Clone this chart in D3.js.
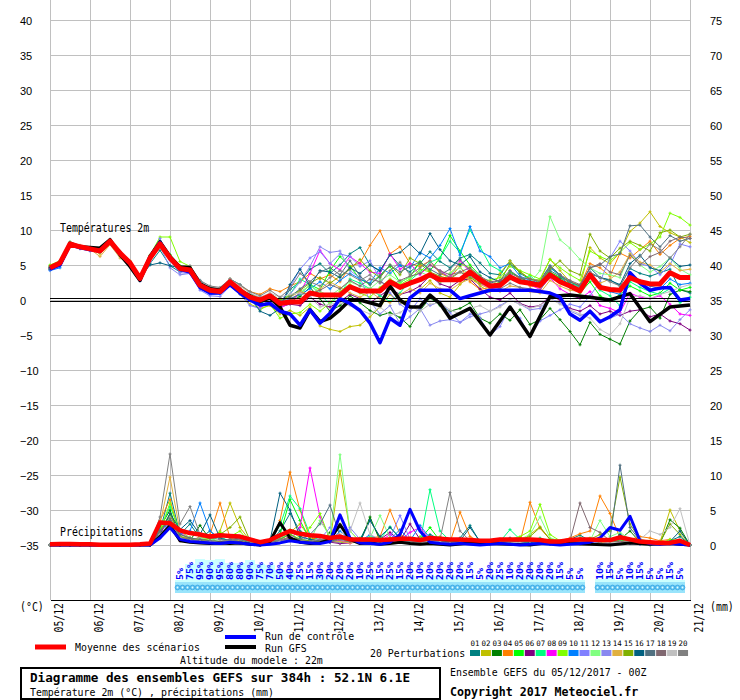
<!DOCTYPE html>
<html><head><meta charset="utf-8">
<script src="https://cdn.jsdelivr.net/npm/d3@7"></script>
<style>body{margin:0;background:#fff}svg{display:block}</style>
</head><body>
<svg id="c" width="740" height="700"></svg>
<script>
// ---------- DATA ----------
const dateLabels = ["05/12","06/12","07/12","08/12","09/12","10/12","11/12","12/12","13/12","14/12","15/12","16/12","17/12","18/12","19/12","20/12","21/12"];
const dayHours = d3.range(0, 385, 24);
const hours6 = d3.range(0, 385, 6);
const gfsHours = d3.range(0, 241, 6).concat(d3.range(252, 385, 12));
const tempTicks = [40,35,30,25,20,15,10,5,0,-5,-10,-15,-20,-25,-30,-35];
const precTicks = [75,70,65,60,55,50,45,40,35,30,25,20,15,10,5,0];
const memberColors = ["#008080","#c0c000","#008000","#ff8000","#00ff00","#800080","#00ff80","#ff00ff","#80ff00","#0080ff","#8080ff","#80ff80","#8888f0","#e0b040","#80b000","#006080","#507080","#806870","#c0c0c0","#808080"];
const memberLabels = ["01","02","03","04","05","06","07","08","09","10","11","12","13","14","15","16","17","18","19","20"];

const tempMean = [4.6,5.3,8.0,7.6,7.3,7.0,8.4,6.7,5.3,3.1,6.0,8.0,6.0,4.5,4.3,2.1,1.4,1.2,2.6,1.4,0.4,0.0,0.6,-0.5,-0.3,-0.3,1.0,0.7,0.7,0.7,1.9,1.3,1.3,1.3,2.6,1.8,2.4,2.9,3.6,2.9,2.9,2.9,4.0,2.9,2.0,2.1,3.3,2.6,2.4,2.1,3.6,2.6,2.0,1.3,3.6,1.8,1.5,1.4,3.2,2.6,2.3,2.3,3.9,3.2,3.2];
const tempControl = [4.4,5.0,7.9,7.5,7.2,7.1,8.3,6.6,5.2,3.0,6.1,8.2,6.0,4.4,4.0,1.8,1.0,1.0,2.2,1.0,0.0,-0.7,-0.5,-1.6,-2.0,-3.6,-1.4,-3.3,-1.9,0.2,-0.5,-1.5,-3.3,-6.1,-2.6,-3.6,0.3,1.4,1.4,1.4,1.4,0.2,0.6,1.0,1.4,1.4,1.4,1.4,1.4,1.2,1.0,0.4,-2.0,-2.9,-1.6,-3.1,-2.4,-1.4,3.9,2.4,1.4,1.7,1.8,0.0,0.2];
const tempGFS = [4.5,5.2,8.1,7.6,7.5,7.4,8.6,6.5,4.8,2.8,6.2,8.3,6.2,4.7,4.6,2.3,1.6,1.4,2.6,1.3,0.6,-0.2,0.3,-1.0,-3.6,-4.0,-1.4,-3.1,-2.6,-1.4,0.0,0.0,-0.4,-0.8,2.0,0.0,-1.0,-1.0,0.7,-0.5,-2.6,-1.2,-5.0,-1.0,-5.2,0.5,0.7,0.4,0.0,0.9,-3.1,-1.0,-0.7];

const t01 = [4.8,5.5,8.2,7.4,7.1,6.8,8.1,6.3,5.0,2.8,5.2,7.1,4.9,4.0,4.6,2.6,1.8,1.6,3.0,2.2,1.0,0.2,0.9,-0.6,1.5,2.6,4.4,5.2,3.8,5.0,6.6,7.5,5.0,4.1,6.5,4.9,4.0,5.2,6.9,5.5,4.6,6.0,6.5,5.3,3.8,3.6,5.6,3.8,3.0,2.8,4.9,3.6,2.3,2.0,4.6,3.2,2.9,2.0,4.5,3.8,3.4,3.9,4.4,1.5,1.0];
const t02 = [4.5,5.1,7.8,7.5,7.4,6.6,8.0,6.9,5.6,3.4,6.3,8.2,6.4,4.7,4.2,1.8,1.1,0.9,2.2,0.8,-0.6,-1.2,-0.8,-2.0,-1.5,-2.2,-1.0,-3.7,-4.2,-4.5,-3.8,-3.6,-2.4,-1.0,0.8,-0.5,0.2,1.5,2.8,1.0,0.4,2.2,3.5,2.0,1.2,3.8,5.6,4.1,3.0,2.8,5.8,4.2,2.6,2.0,7.5,6.0,5.2,6.8,9.8,11.0,12.6,10.5,9.6,9.0,8.2];
const t03 = [4.4,5.2,7.9,7.7,7.2,7.1,8.5,6.8,5.5,3.3,6.2,7.8,5.8,4.3,4.1,2.0,1.2,1.0,2.4,1.2,0.0,-0.5,0.2,-0.8,-0.2,0.5,1.8,0.2,-1.6,-0.8,0.6,-0.4,-1.5,-2.2,-1.8,-2.5,-3.8,-1.5,0.3,-0.8,-1.6,-1.2,-0.4,-2.6,-3.3,-2.0,-2.9,-1.4,-3.5,-2.8,-1.2,-2.8,-4.5,-6.4,-3.2,-4.9,-5.6,-6.3,-3.0,-1.4,-1.0,-2.6,0.8,1.4,1.2];
const t04 = [4.7,5.4,8.1,7.8,7.4,7.2,8.6,6.8,5.4,3.2,6.1,8.1,6.3,4.8,4.6,2.5,1.7,1.6,3.0,2.0,1.2,0.8,1.6,1.2,2.0,2.6,3.8,3.0,3.6,2.6,4.8,5.3,7.8,9.9,6.6,7.6,5.2,4.8,5.6,3.8,3.2,4.8,2.6,1.5,1.8,2.2,4.2,2.9,2.0,1.8,3.8,3.2,2.6,2.1,5.2,4.6,3.4,6.7,6.0,7.2,8.4,6.5,7.8,8.8,9.1];
const t05 = [4.9,5.6,8.3,7.6,7.3,6.9,8.3,6.6,5.1,3.0,5.8,8.4,6.5,4.9,4.5,2.3,1.5,1.3,2.8,1.6,0.5,-0.3,0.4,-0.8,-0.1,0.8,2.2,1.5,4.2,6.2,4.8,3.0,2.2,3.6,4.8,2.5,3.3,5.5,4.2,6.0,9.2,7.0,5.0,3.5,2.0,2.4,4.0,3.2,2.4,2.0,4.0,3.2,2.2,1.0,2.6,0.6,-0.2,0.8,2.0,1.3,0.6,1.0,2.4,1.4,1.8];
const t06 = [4.6,5.2,7.9,7.5,7.2,7.0,8.4,6.6,5.3,3.0,6.0,7.9,6.0,4.5,4.2,2.0,1.3,1.1,2.5,1.2,0.2,-0.4,0.3,-1.0,-0.6,-0.8,0.4,-0.6,-1.0,-0.2,0.8,0.2,-0.4,0.6,1.6,0.8,1.2,2.0,3.5,2.3,1.8,2.8,3.0,1.6,0.4,0.0,1.0,-0.5,-1.0,-0.8,0.6,0.0,-1.2,-1.6,-0.8,-2.0,-1.6,-2.2,-1.6,-1.4,-2.4,-2.0,-3.0,-3.4,-4.3];
const t07 = [4.8,5.4,8.0,7.7,7.4,7.1,8.4,6.8,5.4,3.1,6.2,8.3,6.2,4.6,4.4,2.2,1.5,1.3,2.7,1.5,0.5,-0.1,0.5,-0.2,0.8,3.0,2.2,0.8,-0.6,0.8,3.0,2.4,1.6,0.6,-0.2,1.0,2.8,4.0,5.4,6.0,8.4,6.8,10.0,7.6,5.0,4.2,3.0,2.8,3.5,2.2,4.6,3.5,2.6,1.8,3.4,1.4,0.6,-0.8,2.6,1.8,1.2,0.8,1.6,-0.4,0.4];
const t08 = [4.5,5.3,8.1,7.5,7.3,7.0,8.2,6.7,5.2,3.0,5.9,8.0,6.1,4.6,4.4,2.2,1.6,1.3,2.9,1.8,0.2,-1.0,-0.5,-1.2,-0.4,1.0,3.8,7.1,5.2,4.3,6.2,5.2,4.0,3.8,6.6,4.4,5.2,3.6,5.0,4.2,3.2,5.6,4.0,2.4,1.6,1.8,3.2,2.8,2.2,1.5,3.2,1.6,0.8,0.2,1.2,-0.8,-1.2,-1.8,1.0,0.4,0.2,0.6,-0.6,-2.0,-2.2];
const t09 = [5.0,5.6,8.0,7.4,7.2,6.9,8.3,6.5,5.0,2.8,6.4,9.0,9.0,5.5,4.8,2.4,1.6,1.4,2.8,1.6,0.2,-1.4,-0.6,-2.6,-2.0,-1.8,-0.6,-1.6,-0.4,1.2,2.2,1.0,0.4,1.8,3.0,2.2,3.0,4.4,4.0,2.6,3.8,5.2,4.6,3.0,2.8,3.2,4.8,4.2,3.6,3.0,5.8,4.6,3.6,2.8,7.0,6.2,5.6,6.8,8.2,7.2,8.0,9.0,12.4,11.8,10.7];
const t10 = [4.2,4.6,7.7,7.6,7.3,7.0,8.3,6.6,5.4,3.2,6.0,7.9,5.9,4.4,4.1,1.8,0.8,0.9,2.4,1.3,0.6,-0.5,0.5,-0.4,0.2,0.8,1.6,2.6,1.6,2.8,3.8,3.0,2.4,4.6,3.8,5.0,4.6,6.8,6.0,7.8,10.2,6.4,10.5,7.0,6.2,4.6,5.2,3.4,2.8,2.4,4.6,3.6,1.8,1.4,4.0,2.2,1.2,0.8,3.6,2.8,2.0,1.6,3.0,2.2,2.4];
const t11 = [4.3,5.0,7.8,7.3,7.0,6.8,8.6,6.4,4.8,2.7,5.5,8.8,5.6,3.9,3.8,1.4,0.6,0.5,2.0,0.8,-0.8,-1.2,0.2,-0.5,1.8,4.4,6.0,6.9,5.2,6.6,6.2,4.8,5.6,3.0,1.0,-0.6,-1.6,0.2,-0.8,-0.2,-1.8,-3.2,-2.0,-2.6,-5.0,-3.8,-1.0,-2.6,-5.2,-3.0,-2.2,-1.4,-0.6,-1.0,0.6,2.6,6.0,8.4,7.0,5.2,4.8,3.6,5.0,8.0,7.6];
const t12 = [4.7,5.5,8.2,7.8,7.5,7.2,8.6,6.9,5.5,3.3,6.3,8.2,6.2,4.6,4.4,2.3,1.6,1.5,2.8,1.7,0.8,0.3,0.8,0.0,0.6,1.2,2.0,1.2,0.6,1.6,2.6,2.0,1.6,2.8,3.6,2.6,3.2,4.0,3.4,2.6,3.8,4.6,3.6,2.6,1.8,2.0,3.0,2.6,2.4,4.2,11.9,8.6,7.4,5.8,4.6,3.8,3.6,3.2,6.6,5.0,4.0,4.8,6.0,4.4,3.6];
const t13 = [4.5,5.2,8.0,7.7,7.2,6.9,8.2,6.5,5.0,2.9,5.6,7.7,4.6,3.6,3.8,1.6,1.0,1.0,2.2,1.1,0.0,-0.8,-0.2,-1.4,0.8,2.6,4.8,7.6,6.8,7.0,4.2,3.2,-0.2,-2.0,-0.8,-3.4,-2.4,-1.2,-3.6,-3.0,-2.8,-3.2,-2.4,-2.0,-1.6,-0.8,0.0,-0.6,-1.4,-1.2,0.2,-0.4,-1.6,-2.2,-1.8,-3.0,-2.6,-2.0,-3.4,-4.0,-4.5,-3.6,-4.4,-2.8,-1.4];
const t14 = [4.6,5.3,7.9,7.6,7.3,6.2,7.9,6.0,5.2,3.1,6.0,8.0,6.1,4.6,4.3,2.1,1.4,1.2,2.9,1.6,0.4,0.0,0.6,-0.4,0.4,1.2,0.8,1.6,2.6,1.8,1.0,0.4,1.2,0.2,-0.4,0.8,1.6,1.0,2.4,1.6,1.4,2.4,3.0,2.2,1.6,1.2,2.0,1.8,1.2,1.0,2.8,2.0,1.4,1.2,3.2,2.4,3.0,4.0,6.6,5.4,5.0,4.0,5.2,4.2,4.4];
const t15 = [4.7,5.4,8.1,7.5,7.4,7.1,8.5,6.7,5.3,3.2,6.1,8.1,6.1,4.6,4.4,2.4,1.6,1.4,2.7,1.5,0.6,0.2,0.9,0.0,0.6,1.4,2.4,3.2,2.4,3.4,4.4,5.8,4.2,3.2,5.0,3.6,6.0,5.2,4.0,3.4,3.0,4.0,3.2,2.4,2.0,2.6,5.2,4.0,3.0,2.6,4.4,5.6,4.2,3.6,9.4,7.0,6.0,7.4,8.4,7.8,7.0,9.6,10.0,9.0,9.4];
const t16 = [4.4,5.0,7.9,7.4,7.2,7.1,8.4,6.8,5.4,3.3,5.0,5.3,4.9,4.6,4.6,2.8,1.6,1.2,2.6,1.4,0.4,-1.6,-2.2,-1.2,2.2,4.4,2.0,4.2,4.0,3.2,4.6,3.8,5.0,4.2,6.4,6.8,8.0,6.6,9.5,7.2,5.6,5.0,6.2,4.0,3.2,2.6,3.6,2.8,2.6,2.0,3.8,3.0,2.0,1.6,3.8,3.2,2.8,2.2,5.2,6.4,4.6,4.2,6.0,4.8,5.0];
const t17 = [4.6,5.2,8.0,7.6,7.3,7.0,8.4,6.7,5.3,3.0,6.0,8.0,6.0,4.6,4.5,2.2,1.4,1.3,2.8,1.6,0.6,0.0,0.8,-0.2,0.4,1.6,2.6,4.0,4.6,3.6,5.6,3.4,2.2,3.4,5.0,4.0,4.8,5.4,4.4,3.6,4.4,5.8,4.2,3.2,2.4,2.8,4.2,3.2,2.6,2.4,4.2,3.4,2.6,2.0,4.6,5.0,6.2,6.6,10.6,10.7,9.0,7.6,9.2,8.4,8.8];
const t18 = [4.6,5.3,8.1,7.6,7.3,7.0,8.3,6.7,5.3,3.1,6.0,8.0,6.0,4.4,4.3,2.2,1.4,1.2,2.6,1.4,0.4,0.1,0.7,-0.3,0.0,1.0,0.8,1.4,2.2,1.6,2.8,2.0,3.0,2.6,2.0,2.8,3.4,3.8,5.0,4.2,3.6,4.0,4.6,3.4,2.6,2.8,3.8,3.2,3.0,2.6,4.8,3.6,2.8,2.2,4.6,5.2,4.0,3.6,6.4,5.0,6.2,6.8,8.4,9.0,8.8];
const t19 = [4.8,5.5,8.3,7.7,7.5,7.2,8.6,7.0,5.6,3.4,6.3,8.3,6.4,4.8,4.6,2.6,1.9,1.7,3.0,2.0,1.0,0.4,1.0,0.4,0.8,1.0,0.4,-1.0,-0.6,-0.4,-0.8,-1.4,-2.0,-1.0,-2.2,-1.8,-0.8,-1.6,-0.6,-0.4,-1.4,-2.0,-1.2,-0.8,-1.6,-1.0,0.0,-0.6,-1.2,-0.8,0.2,-0.6,-1.4,-2.0,-2.6,-4.2,-5.0,-3.4,0.4,0.6,0.2,0.8,1.2,1.8,2.2];
const t20 = [4.7,5.4,8.2,7.7,7.4,7.1,8.7,6.9,5.4,3.2,6.1,8.1,6.2,4.8,4.9,2.8,2.0,1.8,3.0,2.2,1.2,0.6,1.4,0.4,1.6,3.8,2.6,2.0,3.2,4.2,3.6,2.8,3.6,2.4,4.2,5.4,3.6,4.6,5.6,4.0,3.2,4.0,3.4,2.6,2.0,1.6,2.4,1.8,1.6,1.4,3.4,2.8,2.2,1.8,4.0,3.2,2.6,2.0,4.6,6.2,8.0,7.2,6.0,7.6,9.4];

const precMean = [0.1,0.15,0.15,0.1,0.1,0.05,0.05,0.05,0.05,0.1,0.2,3.2,3.1,2.1,1.7,1.5,1.2,1.4,1.3,1.2,0.8,0.4,0.7,1.4,2.0,1.6,1.4,1.3,1.0,1.2,0.8,0.8,0.8,0.7,0.8,0.9,0.9,0.7,1.0,0.9,0.8,0.8,0.7,0.6,0.6,0.8,0.8,0.8,0.8,0.7,0.5,0.5,0.7,0.8,0.8,0.7,0.7,1.1,0.8,0.5,0.4,0.3,0.3,0.6,0.0];
const precControl = [0,0,0,0,0,0,0,0,0,0,0,1.0,2.5,0.8,0.5,0.4,0.3,0.2,0.4,0.3,0.1,0.0,0.1,0.3,0.6,0.4,0.3,0.2,0.5,4.3,1.0,0.3,0.2,0.1,0.4,1.5,5.1,2.0,0.4,0.2,0.1,0.2,0.1,0.0,0.1,0.2,0.1,0.0,0.1,0.2,0.1,0.0,0.1,0.2,0.4,1.0,2.5,2.1,4.1,0.6,0.2,0.1,0.2,0.1,0];
const precGFS = [0,0,0,0,0,0,0,0,0,0,0,1.2,2.8,0.6,0.4,0.3,0.2,0.3,0.2,0.3,0.1,0.0,0.5,3.2,1.0,0.4,0.2,0.3,0.8,2.9,0.8,0.2,0.3,0.1,0.2,0.4,0.2,0.1,0.2,0.1,0.0,0.3,0.2,0.1,0.0,0.4,0.2,0.1,0.0,0.3,0.1,0.2,0.0];

const p01 = [0,0,0,0,0,0,0,0,0,0,0.3,2.0,7.4,1.5,3.0,1.0,2.0,0.8,0.5,1.2,0.3,0,0.4,2.0,4.5,2.0,1.2,0.6,0.8,2.6,1.0,0.8,3.6,1.0,0.5,1.2,0.6,0.3,1.5,0.8,0.5,1.0,2.8,0.4,0.2,0.6,1.0,0.3,0.2,0.5,0.1,0.3,0.8,1.4,0.6,0.3,0.2,0.8,0.3,0.1,0,0.2,0.6,1.2,0];
const p02 = [0,0,0,0,0,0,0,0,0,0,0,1.5,3.0,0.8,0.5,1.2,0.6,2.0,6.0,2.5,0.6,0.2,0.5,1.0,1.8,3.0,1.0,0.6,0.4,10.6,2.0,0.5,0.8,0.4,1.0,0.6,0.3,1.2,0.5,0.3,0.6,0.4,0.2,0.3,0.5,0.8,0.6,0.3,1.5,2.6,0.8,0.5,0.4,0.2,0.6,0.5,0.3,1.2,0.6,0.3,0.2,0.4,5.0,2.0,0];
const p03 = [0,0,0,0,0,0,0,0,0,0,0.2,2.5,5.0,1.0,0.6,2.8,0.8,0.5,0.4,0.6,0.2,0.1,0.3,0.8,1.6,0.6,0.4,0.3,1.8,0.6,0.4,0.3,4.0,0.6,0.3,0.5,0.2,0.4,0.8,0.4,0.2,0.3,0.6,0.2,0.1,0.3,0.5,1.0,0.4,0.2,0.1,0.2,0.4,0.3,0.6,0.5,0.2,0.8,2.0,0.4,0.3,0.2,3.6,2.4,0];
const p04 = [0,0,0,0,0,0,0,0,0,0,0,3.5,6.5,1.2,1.0,0.8,1.5,6.0,1.0,0.6,0.3,0.2,0.6,3.5,10.4,5.0,1.0,0.8,0.5,0.3,0.6,0.4,1.0,1.2,5.0,1.5,0.8,0.6,1.2,0.8,0.4,4.7,1.2,0.5,0.3,0.6,0.5,0.4,6.1,2.4,0.8,0.6,1.0,1.6,2.0,7.0,4.5,1.0,0.8,1.2,1.0,0.6,0.8,0.4,0];
const p05 = [0,0,0,0,0,0,0,0,0,0,0.1,1.8,4.2,1.0,0.6,0.8,0.5,0.3,0.6,0.4,0.2,0.1,0.3,1.5,6.5,3.5,0.8,0.5,0.6,0.4,0.5,1.0,0.8,0.5,0.6,0.4,0.3,0.8,2.5,0.6,0.3,0.5,0.3,0.2,0.4,0.6,0.5,0.3,0.4,0.8,0.3,0.2,0.6,0.4,0.3,0.5,0.2,0.6,0.3,0.2,0.1,0.2,0.4,0.3,0];
const p06 = [0,0,0,0,0,0,0,0,0,0,0,1.2,3.0,0.6,0.8,0.5,0.3,0.4,0.8,0.3,0.1,0.0,0.2,0.6,1.2,0.5,0.3,0.6,0.4,0.2,0.3,0.5,0.6,0.8,1.8,0.6,3.0,0.8,0.5,0.3,0.4,0.6,0.3,0.2,0.3,0.8,0.6,0.3,0.2,0.4,0.2,0.3,0.6,0.3,0.5,0.2,0.3,0.4,0.5,0.3,0.2,0.1,0.2,0.3,0];
const p07 = [0,0,0,0,0,0,0,0,0,0,0.1,2.2,5.5,2.0,1.0,0.8,0.6,1.2,0.5,0.8,0.3,0.2,0.5,2.8,7.0,5.2,1.5,0.6,0.5,1.0,0.4,0.6,1.2,0.8,2.6,1.0,0.6,0.4,7.9,2.0,0.6,0.3,0.6,0.4,0.3,0.5,2.2,0.8,0.4,1.0,0.5,0.3,0.6,0.4,0.8,0.6,0.3,1.4,0.6,0.3,0.2,0.1,0.3,0.4,0];
const p08 = [0,0,0,0,0,0,0,0,0,0,0,1.5,4.0,1.8,0.8,1.0,0.6,0.4,0.8,0.5,0.2,0.1,0.3,0.8,0.6,2.5,11.0,4.0,1.0,0.6,0.3,0.6,0.8,0.5,1.5,0.6,1.8,2.5,0.8,0.4,0.3,0.2,0.4,0.3,0.2,0.4,0.3,0.2,0.5,0.6,0.3,0.2,0.4,0.3,0.5,0.6,0.2,0.4,0.3,0.2,0.1,0.2,0.3,0.2,0];
const p09 = [0,0,0,0,0,0,0,0,0,0,0.2,2.0,6.0,1.5,1.0,0.6,0.8,1.8,1.2,2.0,0.3,0.3,0.5,1.2,2.2,1.0,2.5,4.5,0.8,1.2,0.6,0.4,0.8,1.0,0.6,0.8,0.5,0.4,0.6,1.2,0.5,0.3,0.4,0.2,0.6,0.4,0.8,1.2,2.0,5.8,1.5,0.6,0.5,0.8,1.0,0.6,0.4,0.8,0.5,0.6,0.3,0.2,0.8,0.6,0];
const p10 = [0,0,0,0,0,0,0,0,0,0,0,2.2,3.0,1.5,2.0,6.0,2.0,0.8,0.6,0.5,0.2,0.1,0.4,1.0,1.5,0.8,0.6,0.5,0.4,2.0,0.8,0.5,1.5,0.6,0.8,2.2,0.6,2.8,1.0,0.4,0.3,0.5,0.3,0.2,0.3,0.6,0.4,0.3,0.5,0.4,0.2,0.3,0.5,0.2,0.4,0.3,0.2,0.5,0.3,0.2,0.1,0.2,0.3,0.2,0];
const p11 = [0,0,0,0,0,0,0,0,0,0,0.1,1.0,2.5,1.2,0.8,0.5,0.6,0.3,0.5,0.4,0.1,0.0,0.3,0.6,0.8,0.5,1.5,0.8,2.5,1.0,0.6,0.4,0.6,0.8,1.0,4.2,0.8,0.6,0.5,0.3,0.2,0.3,0.2,0.1,0.2,0.3,0.2,0.4,0.3,0.2,0.1,0.2,0.3,0.2,0.4,0.3,0.2,0.3,0.2,0.1,0.1,0.1,0.2,0.1,0];
const p12 = [0,0,0,0,0,0,0,0,0,0,0,1.8,4.0,1.0,0.6,1.0,0.8,0.6,0.5,0.6,0.2,0.1,0.3,1.0,1.6,0.8,0.6,3.5,1.2,12.9,2.0,0.5,1.0,4.2,1.0,0.6,0.4,0.5,1.0,0.6,0.3,0.5,0.4,0.3,0.6,0.4,0.6,0.8,1.5,4.0,1.0,0.6,0.5,1.0,0.6,3.5,1.2,1.8,0.8,0.6,0.4,0.3,0.5,0.3,0];
const p13 = [0,0,0,0,0,0,0,0,0,0,0,1.2,3.5,0.8,0.6,0.4,0.5,0.3,0.6,0.3,0.1,0.1,0.2,0.5,0.8,0.4,0.6,0.8,0.5,0.4,2.5,0.8,0.6,0.5,0.4,0.6,0.3,0.5,0.4,0.3,0.2,0.3,0.2,0.1,0.3,0.2,0.3,0.2,0.4,0.3,0.2,0.1,0.2,0.1,0.3,0.2,0.1,0.3,0.2,0.1,0.1,0.1,0.2,0.1,0];
const p14 = [0,0,0,0,0,0,0,0,0,0,0,3.0,9.7,2.0,1.0,0.8,0.6,0.5,0.8,0.6,0.3,0.1,0.3,0.6,1.0,0.6,0.5,0.4,0.6,0.5,0.3,0.4,0.6,0.5,0.8,0.6,0.4,0.5,0.6,0.4,0.3,0.5,0.4,0.3,0.4,0.5,0.6,0.3,0.4,0.6,0.5,0.4,0.6,0.5,0.6,0.4,0.3,0.5,0.4,0.3,0.2,0.3,0.4,0.3,0];
const p15 = [0,0,0,0,0,0,0,0,0,0,0,2.0,4.5,1.2,0.8,0.6,1.0,1.5,2.5,4.0,0.6,0.2,0.4,0.8,1.5,0.8,0.6,0.5,1.0,3.0,0.8,0.6,0.8,0.6,1.0,0.8,0.5,0.6,0.8,0.5,0.3,0.5,0.4,0.3,0.5,0.4,0.6,0.8,1.2,2.5,0.8,0.5,0.4,1.0,0.8,1.5,2.0,9.7,3.0,0.8,0.5,0.4,3.0,1.5,0];
const p16 = [0,0,0,0,0,0,0,0,0,0,0.3,1.5,4.5,2.2,3.5,1.5,4.3,1.0,0.6,0.8,0.3,0.2,0.6,7.4,5.0,1.2,0.8,0.6,0.5,1.0,0.6,0.5,3.5,1.2,2.5,1.0,0.8,0.6,1.2,0.6,0.4,0.6,2.5,0.5,0.3,0.5,0.6,0.4,0.3,0.5,0.3,0.4,0.6,0.8,0.5,0.6,0.3,1.5,0.6,0.4,0.2,0.3,0.5,2.0,0];
const p17 = [0,0,0,0,0,0,0,0,0,0,0,2.0,3.5,1.5,1.0,0.8,0.6,0.5,0.8,1.0,0.4,0.2,0.4,0.6,1.0,0.8,1.5,3.0,5.7,1.2,0.6,0.8,0.6,0.5,0.8,0.6,0.5,0.4,0.8,0.5,0.3,0.4,0.6,0.3,0.4,0.6,0.5,0.4,0.6,0.5,0.3,0.4,0.3,0.5,0.6,0.4,0.8,11.4,2.5,0.6,0.3,0.2,0.4,0.3,0];
const p18 = [0,0,0,0,0,0,0,0,0,0,0,1.8,3.8,1.0,0.8,0.6,0.5,0.4,0.6,0.5,0.2,0.1,0.3,0.5,0.8,0.6,0.5,0.6,0.4,0.8,0.5,0.4,0.6,0.5,0.6,0.8,0.5,0.4,0.6,0.5,0.3,0.4,0.3,0.2,0.5,0.4,0.3,0.6,0.5,0.4,0.3,0.5,0.6,6.0,2.5,1.8,0.6,0.5,0.4,0.3,0.2,0.2,0.3,0.2,0];
const p19 = [0,0,0,0,0,0,0,0,0,0,0,1.5,3.0,1.0,0.6,0.5,0.4,0.6,0.5,0.4,0.2,0.1,0.2,0.5,0.6,0.5,0.4,1.0,0.8,1.5,2.0,6.0,1.5,0.8,0.6,0.5,0.4,0.3,0.5,0.4,0.2,0.3,0.2,0.1,0.3,0.2,0.4,0.3,0.2,0.3,0.2,0.3,0.2,0.4,0.3,0.2,0.4,0.3,0.5,0.8,2.0,1.5,2.5,5.2,0];
const p20 = [0,0,0,0,0,0,0,0,0,0,0,4.0,13.0,3.0,5.5,1.5,1.0,0.8,0.6,0.8,0.4,0.2,0.4,0.8,1.0,0.6,0.5,0.8,0.6,1.0,0.5,0.4,0.6,0.5,0.8,0.6,0.5,0.4,1.0,0.8,7.5,2.0,0.6,0.5,0.4,0.6,0.5,0.8,0.6,0.5,0.3,0.4,0.5,0.6,0.8,0.6,0.5,0.8,0.6,0.4,0.3,0.2,0.4,0.3,0];

// snow probability (%) per 6h step from +78h (index 13) to +378h (index 63); null = no snow
const snowStart = 13;
const snowPct = [5,75,95,90,95,80,80,90,75,70,50,40,25,15,30,20,20,20,10,25,15,25,15,20,10,20,20,20,20,15,5,20,25,10,20,20,20,20,15,5,5,null,10,15,5,10,15,5,5,15,5];

const tempMembers = [t01,t02,t03,t04,t05,t06,t07,t08,t09,t10,t11,t12,t13,t14,t15,t16,t17,t18,t19,t20];
const precMembers = [p01,p02,p03,p04,p05,p06,p07,p08,p09,p10,p11,p12,p13,p14,p15,p16,p17,p18,p19,p20];

// ---------- DRAW ----------
const svg = d3.select('#c');
const x = d3.scaleLinear().domain([0,384]).range([50,690]);
const yT = d3.scaleLinear().domain([-35,40]).range([545,20]);
const yP = d3.scaleLinear().domain([0,75]).range([545,20]);
const MONO = "'DejaVu Sans Mono','Liberation Mono',monospace";

function ftext(g, str, px, py, o = {}) {
  const adv = o.adv || 5.95;
  return g.append('text')
    .attr('x', px).attr('y', py)
    .attr('font-family', MONO)
    .attr('font-size', o.size || 11)
    .attr('font-weight', o.bold ? 'bold' : 'normal')
    .attr('fill', o.fill || '#000')
    .attr('text-anchor', o.anchor || 'start')
    .attr('textLength', str.length * adv)
    .attr('lengthAdjust', 'spacingAndGlyphs')
    .text(str);
}

svg.append('rect').attr('width', 740).attr('height', 700).attr('fill', '#fff');

// grid
const grid = svg.append('g').attr('stroke', '#c0c0c0').attr('stroke-width', 1).attr('shape-rendering', 'crispEdges');
grid.selectAll('line.h').data(tempTicks).join('line')
  .attr('x1', 50).attr('x2', 690).attr('y1', d => yT(d) + 0.5).attr('y2', d => yT(d) + 0.5);
grid.selectAll('line.v').data(dayHours).join('line')
  .attr('x1', d => x(d) + 0.5).attr('x2', d => x(d) + 0.5).attr('y1', 0).attr('y2', 600);

// snow probability bars
const snowG = svg.append('g').attr('shape-rendering', 'crispEdges');
const snowData = snowPct.map((p, k) => ({ h: hours6[snowStart + k], p })).filter(d => d.p !== null);
snowG.selectAll('rect.col').data(snowData).join('rect')
  .attr('x', d => x(d.h) - 5).attr('width', 10)
  .attr('y', d => 581 - d.p * 0.23).attr('height', d => 593 - (581 - d.p * 0.23))
  .attr('fill', '#ccffff');
snowG.selectAll('rect.band').data(snowData).join('rect')
  .attr('x', d => x(d.h) - 5).attr('width', 10).attr('y', 582).attr('height', 11)
  .attr('fill', '#99e4fb');
const flakes = [];
snowData.forEach(d => { flakes.push(x(d.h) - 2.5, x(d.h) + 2.5); });
svg.append('g').selectAll('circle').data(flakes).join('circle')
  .attr('cx', d => d).attr('cy', 587.5).attr('r', 2.4)
  .attr('fill', '#5fc4f4').attr('stroke', '#3aa6e2').attr('stroke-width', 0.8);
svg.append('g').selectAll('circle').data(flakes).join('circle')
  .attr('cx', d => d).attr('cy', 587.5).attr('r', 0.9).attr('fill', '#e8ffff');
const snowLab = svg.append('g');
snowData.forEach(d => {
  const s = d.p + '%';
  snowLab.append('text')
    .attr('transform', `translate(${x(d.h) + 2.5},580) rotate(-90)`)
    .attr('font-family', MONO).attr('font-size', 8.5).attr('font-weight', 'bold')
    .attr('fill', '#0000ff')
    .attr('textLength', s.length * 6).attr('lengthAdjust', 'spacingAndGlyphs')
    .text(s);
});

// left / right axes
const axL = svg.append('g').attr('transform', 'translate(20,0)')
  .call(d3.axisLeft(yT).tickValues(tempTicks).tickSize(0).tickPadding(0));
axL.select('.domain').remove();
axL.selectAll('text').attr('x', 0).attr('text-anchor', 'start').attr('dy', '0.4em')
  .attr('font-family', "'Liberation Sans',Arial,sans-serif").attr('font-size', 11).attr('fill', '#000');
const axR = svg.append('g').attr('transform', 'translate(710,0)')
  .call(d3.axisRight(yP).tickValues(precTicks).tickSize(0).tickPadding(0));
axR.select('.domain').remove();
axR.selectAll('text').attr('x', 0).attr('text-anchor', 'start').attr('dy', '0.4em')
  .attr('font-family', "'Liberation Sans',Arial,sans-serif").attr('font-size', 11).attr('fill', '#000');

// bottom axis
const axB = svg.append('g').attr('transform', 'translate(0,600)')
  .call(d3.axisBottom(x).tickValues(dayHours).tickFormat((d, i) => dateLabels[i]).tickSize(0).tickSizeOuter(0));
axB.select('.domain').attr('stroke', '#000').attr('stroke-width', 1.2).attr('shape-rendering', 'crispEdges');
axB.selectAll('text')
  .attr('transform', 'translate(12,3) rotate(-90)')
  .attr('x', 0).attr('y', 0).attr('dy', 0)
  .attr('text-anchor', 'end')
  .attr('font-family', MONO).attr('font-size', 12).attr('fill', '#000')
  .attr('textLength', 29.5).attr('lengthAdjust', 'spacingAndGlyphs');

ftext(svg, '(°C)', 20, 611, { size: 12 });
ftext(svg, '(mm)', 710, 611, { size: 12 });

// series helpers
function drawLine(g, hrs, vals, ys, color, w) {
  const pts = d3.zip(hrs, vals);
  g.append('path').datum(pts)
    .attr('d', d3.line().x(d => x(d[0])).y(d => ys(d[1])))
    .attr('fill', 'none').attr('stroke', color).attr('stroke-width', w)
    .attr('stroke-linejoin', 'round');
}
function drawMarks(g, hrs, vals, ys, color) {
  const d = d3.zip(hrs, vals).map(p => {
    const px = x(p[0]), py = ys(p[1]);
    return `M${px - 1.5},${py}h3M${px},${py - 1.5}v3`;
  }).join('');
  g.append('path').attr('d', d).attr('stroke', color).attr('stroke-width', 1).attr('fill', 'none');
}

const memG = svg.append('g');
tempMembers.forEach((vals, k) => {
  drawLine(memG, hours6, vals, yT, memberColors[k], 1);
  drawMarks(memG, hours6, vals, yT, memberColors[k]);
});
precMembers.forEach((vals, k) => {
  drawLine(memG, hours6, vals, yP, memberColors[k], 1);
  drawMarks(memG, hours6, vals, yP, memberColors[k]);
});

// 0°C double line
const zero = svg.append('g').attr('stroke', '#000').attr('stroke-width', 1).attr('shape-rendering', 'crispEdges');
zero.append('line').attr('x1', 50).attr('x2', 690).attr('y1', yT(0) - 1.5).attr('y2', yT(0) - 1.5);
zero.append('line').attr('x1', 50).attr('x2', 690).attr('y1', yT(0) + 1.5).attr('y2', yT(0) + 1.5);

const mainG = svg.append('g');
drawLine(mainG, gfsHours, tempGFS, yT, '#000', 3.5);
drawLine(mainG, gfsHours, precGFS, yP, '#000', 3);
drawLine(mainG, hours6, tempControl, yT, '#0000ff', 3.5);
drawLine(mainG, hours6, precControl, yP, '#0000ff', 3);
drawLine(mainG, hours6, tempMean, yT, '#ff0000', 5);
drawLine(mainG, hours6, precMean, yP, '#ff0000', 4.5);

// in-plot labels
ftext(svg, 'Températures 2m', 60, 232, { size: 12 });
ftext(svg, 'Précipitations', 60, 536, { size: 12 });

// legend
const leg = svg.append('g');
leg.append('line').attr('x1', 35).attr('x2', 66).attr('y1', 647).attr('y2', 647).attr('stroke', '#ff0000').attr('stroke-width', 5);
ftext(leg, 'Moyenne des scénarios', 75, 651, { size: 10 });
leg.append('line').attr('x1', 225).attr('x2', 256).attr('y1', 637).attr('y2', 637).attr('stroke', '#0000ff').attr('stroke-width', 4);
ftext(leg, 'Run de contrôle', 265, 640, { size: 10 });
leg.append('line').attr('x1', 225).attr('x2', 256).attr('y1', 647).attr('y2', 647).attr('stroke', '#000').attr('stroke-width', 4);
ftext(leg, 'Run GFS', 265, 652, { size: 10 });
ftext(leg, 'Altitude du modele : 22m', 180, 664, { size: 10.5 });
ftext(leg, '20 Perturbations', 370, 657, { size: 11 });

const swG = leg.append('g');
memberColors.forEach((c, k) => {
  const sx = 470 + k * 10.95;
  swG.append('rect').attr('x', sx).attr('y', 650).attr('width', 10).attr('height', 6).attr('fill', c);
  swG.append('text').attr('x', sx + 5).attr('y', 646).attr('text-anchor', 'middle')
    .attr('font-family', MONO).attr('font-size', 7.5).attr('fill', '#000')
    .attr('textLength', 9).attr('lengthAdjust', 'spacingAndGlyphs').text(memberLabels[k]);
});

leg.append('rect').attr('x', 21).attr('y', 668).attr('width', 419).attr('height', 31)
  .attr('fill', 'none').attr('stroke', '#000').attr('stroke-width', 2);
ftext(leg, 'Diagramme des ensembles GEFS sur 384h : 52.1N 6.1E', 30, 682, { bold: true, adv: 7.6, size: 12.5 });
ftext(leg, 'Température 2m (°C) , précipitations (mm)', 30, 696, { size: 11 });
ftext(leg, 'Ensemble GEFS du 05/12/2017 - 00Z', 450, 676, { size: 11 });
ftext(leg, 'Copyright 2017 Meteociel.fr', 450, 696, { bold: true, adv: 6.97, size: 12 });
</script>
</body></html>
